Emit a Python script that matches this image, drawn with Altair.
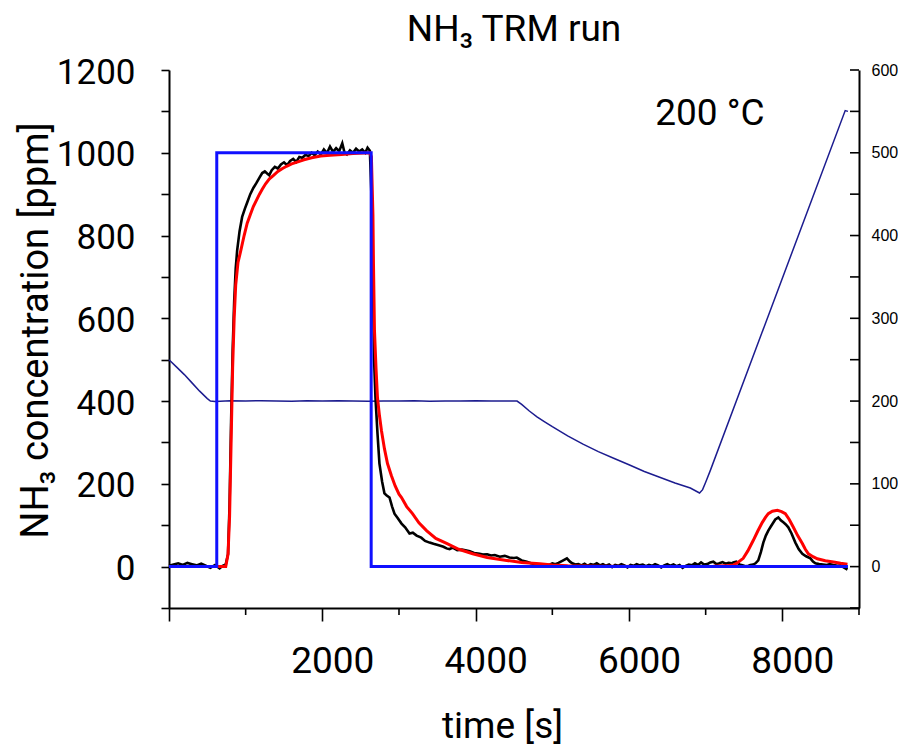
import altair as alt
import pandas as pd

# ---------------- data ----------------
x_major_ticks = [0, 2000, 4000, 6000, 8000]
x_minor_ticks = [1000, 3000, 5000, 7000, 9000]
ppm_ticks = [-100, 0, 100, 200, 300, 400, 500, 600, 700, 800, 900, 1000, 1100, 1200]
temp_label_values = [0, 100, 200, 300, 400, 500, 600]
temp_tick_values = [-50, 0, 50, 100, 150, 200, 250, 300, 350, 400, 450, 500, 550, 600]

# inlet NH3 step (ppm)
step_t = [0, 623, 623, 2637, 2637, 8856]
step_ppm = [0, 0, 1000, 1000, 0, 0]

# measured NH3 (ppm)
black = [
    (0, 2), (60, 5), (120, 8), (180, 4), (240, 9), (300, 6), (360, 3), (420, 7), (480, 2),
    (540, -3), (600, 4), (660, -4), (700, 2), (740, 5), (770, 30), (790, 150), (810, 350),
    (830, 520), (850, 640), (870, 720), (889, 764), (920, 810), (954, 845), (990, 865),
    (1020, 880), (1060, 900), (1100, 915), (1137, 926), (1180, 940), (1216, 951), (1250, 955),
    (1280, 950), (1307, 946), (1340, 958), (1380, 966), (1420, 962), (1460, 972), (1500, 977),
    (1540, 970), (1580, 980), (1620, 985), (1660, 978), (1700, 990), (1740, 988), (1780, 995),
    (1820, 992), (1860, 1000), (1900, 994), (1940, 1003), (1980, 996), (2020, 1008),
    (2060, 999), (2100, 1015), (2140, 1002), (2180, 1011), (2220, 1004), (2260, 1023),
    (2290, 1000), (2320, 996), (2360, 1006), (2400, 1000), (2440, 1010), (2480, 1003),
    (2520, 1008), (2560, 1000), (2590, 1012), (2620, 1005), (2640, 900), (2660, 700),
    (2675, 500), (2693, 409), (2720, 320), (2745, 249), (2780, 205), (2810, 177), (2840, 172),
    (2876, 167), (2910, 145), (2941, 128), (2980, 118), (3033, 104), (3080, 95), (3137, 80),
    (3180, 82), (3230, 75), (3290, 70), (3340, 62), (3399, 58), (3450, 55), (3529, 51),
    (3580, 48), (3620, 44), (3660, 42), (3700, 46), (3760, 40), (3820, 41), (3882, 39),
    (3922, 37), (3980, 33), (4052, 31), (4092, 29), (4150, 30), (4200, 27), (4250, 28),
    (4314, 24), (4380, 26), (4440, 22), (4500, 21), (4536, 22), (4600, 15), (4667, 12),
    (4720, 8), (4780, 6), (4830, 3), (4876, 2), (4920, 5), (4960, 4), (5000, 8), (5040, 6),
    (5080, 9), (5130, 14), (5190, 20), (5230, 12), (5260, 8), (5300, 5), (5340, 6), (5380, 3),
    (5420, 7), (5460, 2), (5500, 6), (5540, 4), (5580, 8), (5620, 3), (5660, 6), (5700, 2),
    (5740, 5), (5780, -1), (5820, 4), (5860, 2), (5900, 6), (5940, 3), (5980, -2), (6020, 4),
    (6060, 2), (6100, 6), (6140, 3), (6180, 5), (6220, 1), (6260, 4), (6300, 2), (6340, 6),
    (6380, 3), (6420, -2), (6460, 3), (6500, 6), (6540, 2), (6580, 5), (6620, 1), (6660, 4),
    (6700, -3), (6740, 2), (6780, 5), (6820, 3), (6860, 8), (6900, 4), (6940, 10), (6980, 5),
    (7020, 6), (7060, 10), (7100, 12), (7140, 6), (7180, 8), (7220, 11), (7260, 7), (7300, 9),
    (7340, 8), (7360, 10), (7400, 12), (7440, 5), (7480, 3), (7520, 1), (7560, 2), (7582, 4),
    (7620, 5), (7650, 8), (7686, 15), (7720, 35), (7752, 58), (7785, 75), (7817, 87),
    (7860, 100), (7908, 114), (7948, 119), (7980, 112), (8013, 107), (8045, 102), (8078, 95),
    (8120, 80), (8170, 58), (8215, 42), (8261, 31), (8310, 25), (8366, 20), (8400, 12),
    (8431, 8), (8480, 6), (8530, 5), (8580, 4), (8620, 6), (8667, 4), (8720, 2), (8760, 3),
    (8800, -2), (8850, -7),
]

# model NH3 (ppm)
red = [
    (0, 0), (740, 0), (770, 30), (790, 120), (810, 300), (830, 480), (850, 600), (870, 680),
    (900, 735), (937, 764), (980, 800), (1020, 830), (1060, 850), (1100, 870), (1140, 885),
    (1180, 900), (1216, 912), (1260, 925), (1310, 937), (1360, 945), (1420, 955), (1480, 962),
    (1540, 968), (1600, 973), (1680, 978), (1760, 983), (1860, 988), (1980, 992), (2100, 994),
    (2250, 996), (2400, 998), (2620, 1000), (2640, 990), (2660, 850), (2667, 733), (2680, 571),
    (2700, 480), (2719, 409), (2745, 365), (2771, 329), (2810, 285), (2850, 249), (2900, 220),
    (2950, 195), (3000, 175), (3033, 167), (3100, 145), (3176, 128), (3260, 106), (3359, 87),
    (3480, 68), (3621, 56), (3780, 42), (3961, 31), (4150, 22), (4405, 15), (4600, 10),
    (4837, 7), (5000, 4), (5200, 2), (5600, 1), (6200, 0), (6800, 0), (7100, 1), (7300, 3),
    (7360, 4), (7420, 10), (7490, 20), (7550, 38), (7620, 63), (7680, 86), (7739, 107),
    (7780, 119), (7817, 128), (7870, 134), (7935, 136), (7990, 133), (8039, 128), (8090, 114),
    (8144, 95), (8200, 75), (8261, 56), (8300, 42), (8340, 31), (8400, 24), (8457, 19),
    (8560, 14), (8667, 11), (8760, 8), (8850, 6),
]

# catalyst temperature (deg C, right axis)
temp = [
    (0, 250), (100, 241), (200, 232), (300, 222), (400, 212), (500, 203), (540, 200),
    (600, 199.5), (800, 200.5), (1000, 200), (1200, 200.5), (1400, 200), (1600, 199.8),
    (1800, 200.3), (2000, 200), (2200, 200.4), (2400, 200), (2600, 199.7), (2800, 200.2),
    (3000, 200), (3200, 200.3), (3400, 199.8), (3600, 200.2), (3800, 200), (4000, 200.3),
    (4200, 200), (4400, 200), (4540, 200), (4600, 196), (4700, 188), (4800, 181), (4900, 175),
    (5000, 169), (5200, 158), (5400, 148), (5600, 139), (5800, 131), (6000, 123), (6200, 115),
    (6400, 108), (6600, 101), (6800, 95), (6920, 89), (6960, 93), (7000, 102), (7060, 116),
    (8820, 551), (8856, 550),
]

annot_text = ["200 °C"]
annot_t = [7056]
annot_ppm = [1094]

# ---------------- frames ----------------
df_step = pd.DataFrame({"t": step_t, "ppm": step_ppm, "i": list(range(len(step_t)))})
df_black = pd.DataFrame(black, columns=["t", "ppm"])
df_red = pd.DataFrame(red, columns=["t", "ppm"])
df_temp = pd.DataFrame(temp, columns=["t", "temp"])
df_minor = pd.DataFrame({"t": x_minor_ticks})
df_tticks = pd.DataFrame({"temp": temp_tick_values})
df_annot = pd.DataFrame({"t": annot_t, "ppm": annot_ppm, "label": annot_text})

W, H = 690, 538
FONT = "Roboto"

common_axis = dict(domainColor="black", domainWidth=2, tickColor="black", tickWidth=1.6,
                   labelColor="black", titleColor="black", grid=False,
                   labelOverlap=False, labelFlush=False)

xaxis = alt.Axis(values=x_major_ticks, format="d",
                 labelExpr="datum.value == 0 ? '' : datum.label",
                 tickSize=13, labelPadding=51, labelBaseline="alphabetic", labelOffset=10,
                 labelFont=FONT, labelFontSize=37,
                 title="time [s]", titleFont=FONT, titleFontSize=37, titleFontWeight="normal",
                 titleX=333, titleY=129, titleAlign="center", titleBaseline="alphabetic",
                 **common_axis)

yaxis = alt.Axis(orient="left", values=ppm_ticks, format="d",
                 labelExpr="datum.value % 200 == 0 ? datum.label : ''",
                 tickSize=8, labelPadding=26, labelAlign="right", labelBaseline="middle",
                 labelOffset=2, labelFont=FONT, labelFontSize=35,
                 title="NH₃ concentration [ppm]", titleFont=FONT, titleFontSize=38,
                 titleFontWeight="normal", titleAngle=270, titleX=-133, titleY=260,
                 titleAlign="center", titleBaseline="middle",
                 **common_axis)

taxis = alt.Axis(orient="right", values=temp_label_values, format="d", ticks=False,
                 labelPadding=12, labelAlign="left", labelBaseline="middle",
                 labelFont="Liberation Sans", labelFontSize=16, title=None,
                 **common_axis)

xenc = alt.X("t:Q", scale=alt.Scale(domain=[0, 9000], nice=False, zero=False), axis=xaxis)
yenc = alt.Y("ppm:Q", scale=alt.Scale(domain=[-100, 1200], nice=False, zero=False), axis=yaxis)
tenc = alt.Y("temp:Q", scale=alt.Scale(domain=[-50, 600], nice=False, zero=False), axis=taxis)

minor_x = alt.Chart(df_minor).mark_rule(color="black", strokeWidth=1.6).encode(
    x=xenc, y=alt.value(H), y2=alt.value(H + 7))

black_line = alt.Chart(df_black).mark_line(color="black", strokeWidth=2.6).encode(x=xenc, y=yenc)
red_line = alt.Chart(df_red).mark_line(color="#ff0000", strokeWidth=3).encode(x=xenc, y=yenc)
blue_line = alt.Chart(df_step).mark_line(color="#1010ff", strokeWidth=3).encode(
    x=xenc, y=yenc, order="i:Q")
annot = alt.Chart(df_annot).mark_text(font=FONT, fontSize=37, align="center",
                                      baseline="middle", color="black").encode(
    x=xenc, y=yenc, text="label:N")

temp_line = alt.Chart(df_temp).mark_line(color="#1c1c8f", strokeWidth=1.5).encode(x=xenc, y=tenc)
temp_ticks = alt.Chart(df_tticks).mark_rule(color="black", strokeWidth=1.6).encode(
    y=tenc, x=alt.value(W - 9), x2=alt.value(W))

ppm_layer = alt.layer(minor_x, black_line, red_line, blue_line, annot)
temp_layer = alt.layer(temp_line, temp_ticks)

chart = alt.layer(temp_layer, ppm_layer).resolve_scale(y="independent").properties(
    width=W, height=H,
    title=alt.Title("NH₃ TRM run", font=FONT, fontSize=37, fontWeight="normal",
                    anchor="middle", offset=6, color="black"),
    autosize=alt.AutoSizeParams(type="none"),
    padding={"left": 161, "top": 62, "right": 39, "bottom": 137},
).configure_view(stroke=None)

chart.save("out.html", embed_options={"renderer": "svg", "actions": False})
